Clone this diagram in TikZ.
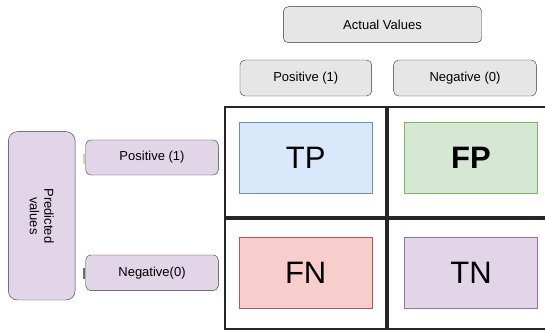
\documentclass[tikz,border=0pt]{standalone}
\usepackage{fontspec}
\setmainfont{Liberation Sans}
\usetikzlibrary{positioning}
\definecolor{BoxGray}{HTML}{E6E6E6}
\definecolor{BoxPurple}{HTML}{E1D5E7}
\definecolor{TPFill}{HTML}{DAE8FC}
\definecolor{TPDraw}{HTML}{6C8EBF}
\definecolor{FPFill}{HTML}{D5E8D4}
\definecolor{FPDraw}{HTML}{82B366}
\definecolor{FNFill}{HTML}{F8CECC}
\definecolor{FNDraw}{HTML}{B85450}
\definecolor{TNFill}{HTML}{E1D5E7}
\definecolor{TNDraw}{HTML}{9673A6}
\definecolor{MarkTan}{HTML}{E2CFA0}
\definecolor{MarkGreen}{HTML}{5E7A5E}

\begin{document}
\begin{tikzpicture}[x=1pt, y=-1pt,
			every node/.style={align=center, inner sep=0pt},
			tagbox/.style={font=\fontsize{13}{14.5}\selectfont, draw=black!80, rounded corners=5pt, minimum height=36pt},
			actual/.style={tagbox, fill=BoxGray},
			predicted/.style={tagbox, fill=BoxPurple},
			result/.style={font=\fontsize{31}{33}\selectfont, draw, line width=0.8pt, minimum width=132.5pt, minimum height=71pt},
			cell/.style={draw=black!85, line width=1.8pt, minimum width=161.3pt, minimum height=110pt}
		]
			\useasboundingbox (0,0) rectangle (545,331);

			\node (cellTP) [cell] at (305.3,162.3) {};
			\node (cellFP) [cell, right=0pt of cellTP] {};
			\node (cellFN) [cell, below=0pt of cellTP] {};
			\node (cellTN) [cell, right=0pt of cellFN] {};

			\node (tp) [result, fill=TPFill, draw=TPDraw] at (305.7,157.8) {TP};
			\node (fp) [result, fill=FPFill, draw=FPDraw, right=32pt of tp, font=\fontsize{31}{33}\selectfont\bfseries] {FP};
			\node (fn) [result, fill=FNFill, draw=FNDraw, below=43.5pt of tp] {FN};
			\node (tn) [result, fill=TNFill, draw=TNDraw, right=32pt of fn] {TN};

			\node (actual) [actual, minimum width=198.4pt] at (382.5,24.7) {Actual Values};
			\node (actpos) [actual, minimum width=131.7pt] at (305.8,78) {Positive (1)};
			\node (actneg) [actual, minimum width=142.7pt, right=21.6pt of actpos] {Negative (0)};

			\node (pred) [predicted, rounded corners=9pt, minimum width=66.7pt, minimum height=168.3pt] at (41.7,215.8) {};
			\node (predtext) [rotate=-90, font=\fontsize{13}{14.5}\selectfont] at (pred) {Predicted\\values};
			\node (predpos) [predicted, minimum width=132.6pt, minimum height=35pt] at (152,157.5) {Positive (1)};
			\node (predneg) [predicted, minimum width=132.6pt, minimum height=35.7pt] at (152,272.8) {Negative(0)};

			% little marks at the left side of the predicted labels
			\fill[MarkTan] ([xshift=-2.5pt,yshift=4pt]predpos.west) rectangle ([xshift=-0.5pt,yshift=-6pt]predpos.west);
			\fill[MarkGreen] ([xshift=-2.5pt,yshift=4.5pt]predneg.west) rectangle ([xshift=-0.5pt,yshift=-6.5pt]predneg.west);
		\end{tikzpicture}
\end{document}
